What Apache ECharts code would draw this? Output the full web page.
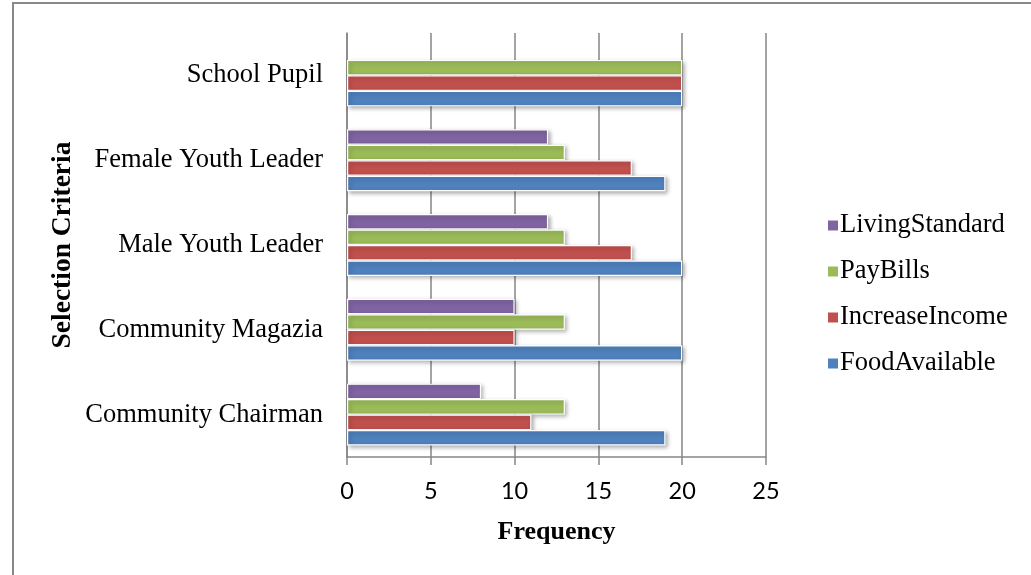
<!DOCTYPE html>
<html>
<head>
<meta charset="utf-8">
<title>Selection Criteria</title>
<script src="https://cdn.jsdelivr.net/npm/echarts@6/dist/echarts.min.js"></script>
<style>
  html, body { margin: 0; padding: 0; background: #ffffff; }
  #chart { width: 1031px; height: 575px; }
</style>
</head>
<body>
<div id="chart"></div>
<script>
// Categories listed bottom to top (category axis runs upward)
const categories = ['Community Chairman', 'Community Magazia', 'Male Youth Leader', 'Female Youth Leader', 'School Pupil'];

const foodAvailable  = [19, 20, 20, 19, 20];
const increaseIncome = [11, 10, 17, 17, 20];
const payBills       = [13, 13, 13, 13, 20];
const livingStandard = [8, 10, 12, 12, null];

const xTicks = [0, 5, 10, 15, 20, 25];

const chart = echarts.init(document.getElementById('chart'));

const serif = '"Liberation Serif", "Times New Roman", serif';

function barSeries(name, values, color) {
  return {
    name: name,
    type: 'bar',
    data: values,
    barGap: '0%',
    barCategoryGap: '27%',
    itemStyle: {
      color: color,
      borderColor: '#ffffff',
      borderWidth: 1.2,
      shadowColor: 'rgba(0,0,0,0.3)',
      shadowBlur: 4,
      shadowOffsetX: 2,
      shadowOffsetY: 2
    }
  };
}

chart.setOption({
  animation: false,
  backgroundColor: '#ffffff',
  graphic: [
    { type: 'line', shape: { x1: 13, y1: 2, x2: 13, y2: 575 }, style: { stroke: '#898989', lineWidth: 2 } },
    { type: 'line', shape: { x1: 13, y1: 3, x2: 1031, y2: 3 }, style: { stroke: '#898989', lineWidth: 2 } }
  ],
  legend: {
    orient: 'vertical',
    left: 821,
    top: 207,
    data: ['LivingStandard', 'PayBills', 'IncreaseIncome', 'FoodAvailable'],
    icon: 'rect',
    itemWidth: 12,
    itemHeight: 12,
    itemGap: 19,
    textStyle: { fontFamily: serif, fontSize: 26.5, color: '#000000', lineHeight: 27, padding: [0, 0, 0, -4] }
  },
  grid: { left: 347, right: 265, top: 33, bottom: 118 },
  xAxis: {
    type: 'value',
    min: xTicks[0],
    max: xTicks[xTicks.length - 1],
    interval: xTicks[1] - xTicks[0],
    name: 'Frequency',
    nameLocation: 'middle',
    nameGap: 62,
    nameTextStyle: { fontFamily: serif, fontSize: 26, fontWeight: 'bold', color: '#000000' },
    axisLine: { show: true, lineStyle: { color: '#868686', width: 1.5 } },
    axisTick: { show: true, length: 8, lineStyle: { color: '#868686', width: 1.5 } },
    axisLabel: { fontFamily: 'Lato, "Open Sans", sans-serif', fontSize: 23.5, color: '#000000', margin: 22 },
    splitLine: { show: true, lineStyle: { color: '#868686', width: 1.5 } }
  },
  yAxis: {
    type: 'category',
    data: categories,
    name: 'Selection Criteria',
    nameLocation: 'middle',
    nameGap: 270,
    nameRotate: 90,
    nameTextStyle: { fontFamily: serif, fontSize: 27.5, fontWeight: 'bold', color: '#000000' },
    axisLine: { show: true, lineStyle: { color: '#868686', width: 1.5 } },
    axisTick: { show: false },
    axisLabel: { fontFamily: serif, fontSize: 26.5, color: '#000000', margin: 24 }
  },
  // Series listed top-to-bottom within each group
  series: [
    barSeries('LivingStandard', livingStandard, '#8064A2'),
    barSeries('PayBills', payBills, '#9BBB59'),
    barSeries('IncreaseIncome', increaseIncome, '#C0504D'),
    barSeries('FoodAvailable', foodAvailable, '#4F81BD')
  ]
});
</script>
</body>
</html>
